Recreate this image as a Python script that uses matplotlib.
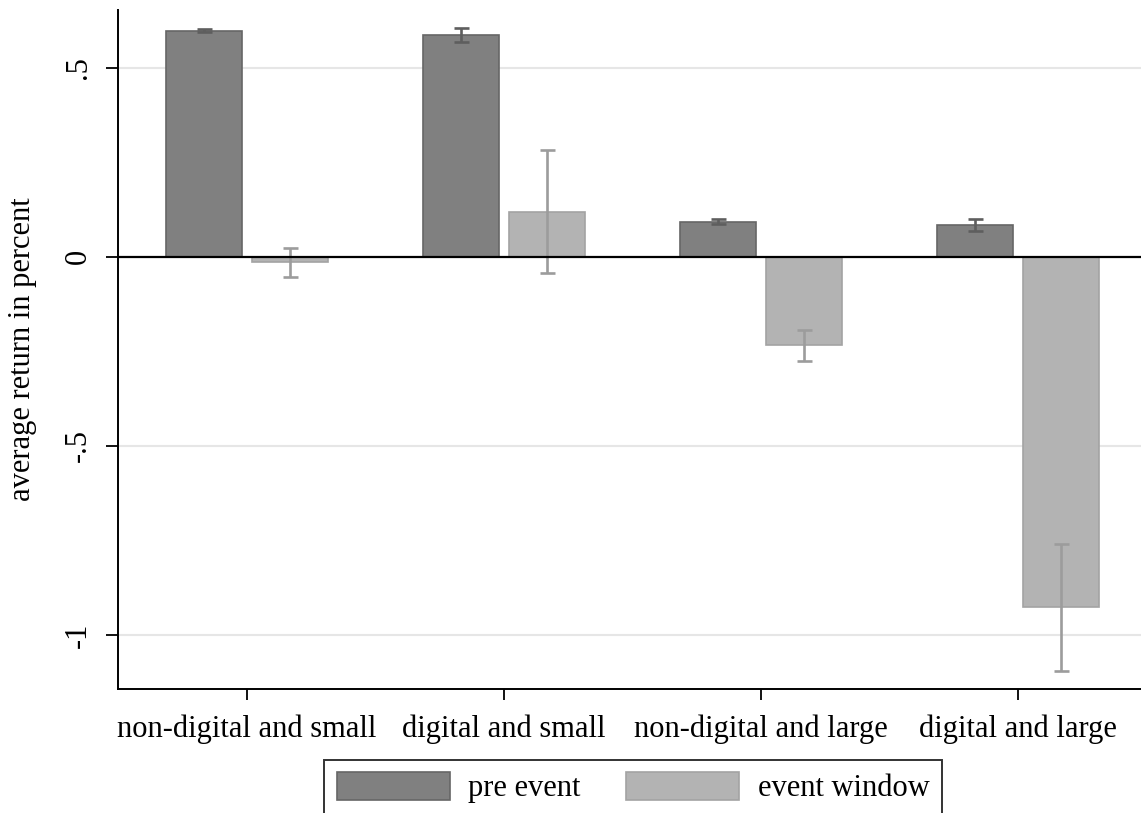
import numpy as np
import matplotlib
matplotlib.use("Agg")
import matplotlib.pyplot as plt
from matplotlib.patches import Patch

plt.rcParams['font.family'] = ['Liberation Serif', 'DejaVu Serif']

# Groups and average returns (percent) with confidence bounds
categories = ["non-digital and small", "digital and small",
              "non-digital and large", "digital and large"]
pre_event = [0.598, 0.587, 0.093, 0.085]
pre_low = [0.594, 0.569, 0.087, 0.069]
pre_high = [0.602, 0.606, 0.100, 0.100]
event_window = [-0.014, 0.120, -0.233, -0.926]
event_low = [-0.053, -0.042, -0.275, -1.095]
event_high = [0.024, 0.283, -0.193, -0.759]
series_labels = ["pre event", "event window"]
ytick_values = [-1, -0.5, 0, 0.5]
ytick_labels = ["-1", "-.5", "0", ".5"]

W, H = 1141, 813
fig = plt.figure(figsize=(W / 100, H / 100), dpi=100)
ax = fig.add_axes([118 / W, 1 - 689 / H, 1 - 118 / W, (689 - 10) / H])

x = np.arange(len(categories))
bw = 0.296
off = 0.167
dark, dark_edge, dark_err = "#808080", "#666666", "#5e5e5e"
light, light_edge, light_err = "#b3b3b3", "#a3a3a3", "#9c9c9c"

ax.bar(x - off, pre_event, width=bw, color=dark, edgecolor=dark_edge,
       linewidth=1.2, zorder=3)
ax.bar(x + off, event_window, width=bw, color=light, edgecolor=light_edge,
       linewidth=1.2, zorder=3)

pre_event = np.array(pre_event)
event_window = np.array(event_window)
ax.errorbar(x - off, pre_event,
            yerr=[pre_event - np.array(pre_low), np.array(pre_high) - pre_event],
            fmt='none', ecolor=dark_err, elinewidth=1.9, capsize=5.4,
            capthick=1.9, zorder=4)
ax.errorbar(x + off, event_window,
            yerr=[event_window - np.array(event_low), np.array(event_high) - event_window],
            fmt='none', ecolor=light_err, elinewidth=1.9, capsize=5.4,
            capthick=1.9, zorder=4)

ax.set_xlim(-0.502, 3.479)
ax.set_ylim(-1.143, 0.653)

for v in ytick_values:
    if v == 0:
        ax.axhline(0, color="black", linewidth=1.6, zorder=5)
    else:
        ax.axhline(v, color="#e6e6e6", linewidth=1.5, zorder=1)

ax.set_yticks(ytick_values)
ax.set_yticklabels(ytick_labels, rotation=90, va="center", fontsize=22)
ax.set_xticks(x)
ax.set_xticklabels(categories, fontsize=22)
ax.tick_params(axis="y", length=9, width=1.3, pad=9, color="black")
ax.tick_params(axis="x", length=8, width=1.3, pad=10, color="black")

for s in ("top", "right"):
    ax.spines[s].set_visible(False)
for s in ("left", "bottom"):
    ax.spines[s].set_linewidth(1.4)
    ax.spines[s].set_color("black")

ax.set_ylabel("average return in percent", fontsize=22)
ax.yaxis.set_label_coords(-(118 - 37) / (W - 118), 0.5)

handles = [Patch(facecolor=dark, edgecolor=dark_edge, linewidth=1.2),
           Patch(facecolor=light, edgecolor=light_edge, linewidth=1.2)]
leg = fig.legend(handles, series_labels, loc="upper center",
                 bbox_to_anchor=(633 / W, 1 - 760 / H), ncol=2, fontsize=22,
                 frameon=True, fancybox=False, edgecolor="black",
                 handlelength=3.7, handleheight=1.0, handletextpad=0.6,
                 columnspacing=1.5, borderpad=0.4, borderaxespad=0)
leg.get_frame().set_linewidth(1.4)

fig.savefig("out.png", dpi=100, facecolor="white")
